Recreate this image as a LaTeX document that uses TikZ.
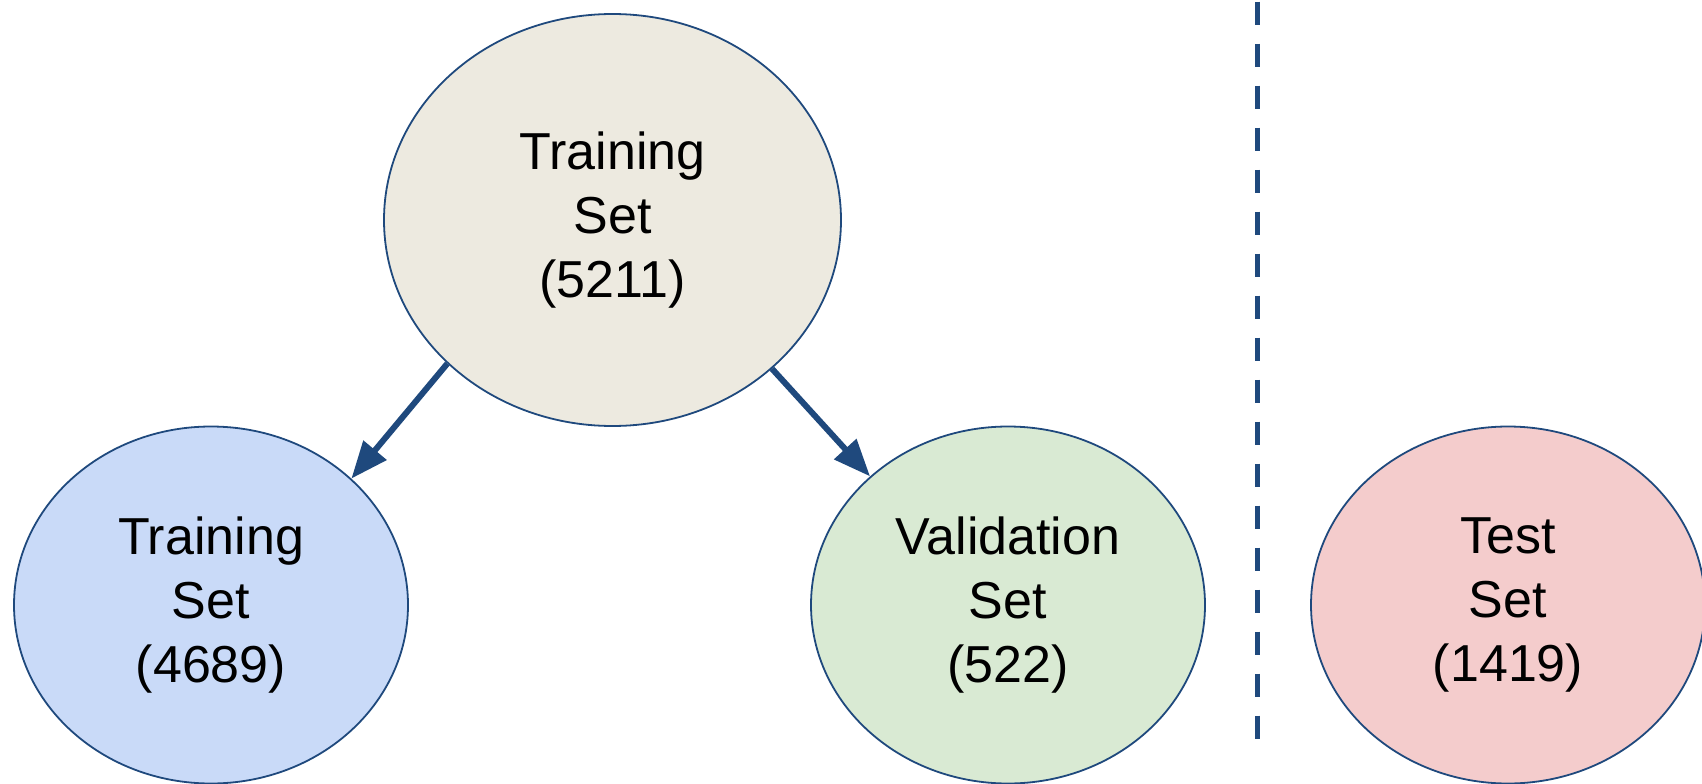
\documentclass[tikz,border=0pt]{standalone}
\usepackage{fontspec}
\setmainfont{Liberation Sans}
\usetikzlibrary{shapes.geometric,arrows.meta}
\definecolor{linec}{RGB}{31,73,125}
\definecolor{topfill}{RGB}{237,234,224}
\definecolor{leftfill}{RGB}{201,218,248}
\definecolor{midfill}{RGB}{217,234,211}
\definecolor{rightfill}{RGB}{244,204,204}
\tikzset{
  setnode/.style={ellipse, draw=linec, line width=1.8pt, inner sep=0pt,
    minimum width=394pt, minimum height=357pt, align=center,
    font=\fontsize{52}{64}\selectfont},
  splitarrow/.style={draw=linec, line width=6pt,
    -{Triangle[length=37pt,width=29pt]}},
  divider/.style={draw=linec, line width=5.5pt, dash pattern=on 23pt off 19pt}
}
\begin{document}
\begin{tikzpicture}[x=1pt,y=-1pt]
\useasboundingbox (0,0) rectangle (1702,784);
\node[setnode, fill=topfill, minimum width=457pt, minimum height=412pt] (top) at (612.5,220) {Training\\Set\\(5211)};
\node[setnode, fill=leftfill] (train) at (211,605) {Training\\Set\\(4689)};
\node[setnode, fill=midfill] (val) at (1008,605) {Validation\\Set\\(522)};
\node[setnode, fill=rightfill] (test) at (1508,605) {Test\\Set\\(1419)};
\draw[splitarrow] (top.221.6) -- (train.42.6);
\draw[splitarrow] (top.317.5) -- (val.137.6);
\coordinate (dtop) at (1257.6,1.7);
\coordinate (dbot) at (1257.6,739);
\draw[divider] (dtop) -- (dbot);
\end{tikzpicture}
\end{document}
